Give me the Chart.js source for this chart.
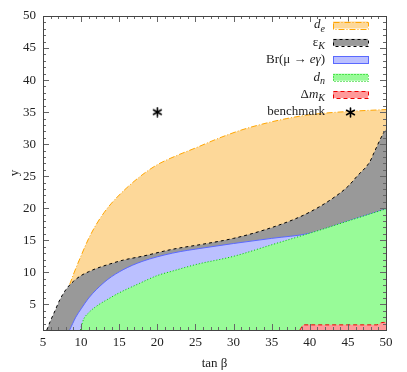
<!DOCTYPE html>
<html>
<head>
<meta charset="utf-8">
<script src="https://cdn.jsdelivr.net/npm/chart.js@4"></script>
<style>
  html, body { margin: 0; padding: 0; background: #fff; }
  #wrap { width: 407px; height: 372px; }
</style>
</head>
<body>
<div id="wrap"><canvas id="limitsChart"></canvas></div>
<script>
// boundaries of the excluded regions (tan beta, y)
const deX = [8.5, 9, 10, 11, 12, 13, 14, 16, 18, 20, 22.5, 25, 28, 31, 34, 37, 40, 45, 50];
const deY = [8.1, 9.7, 12.6, 15.3, 17.5, 19.3, 20.8, 23.2, 25.2, 26.8, 28.2, 29.4, 30.9, 32.2, 33.2, 34.0, 34.6, 35.1, 35.4];

const epsX = [5.5, 6, 6.5, 7.2, 8, 9, 10, 11, 12, 13.5, 15.5, 18, 22, 26, 30, 34, 38, 40, 42.7, 45, 46.2, 47.9, 48.4, 49.7, 50];
const epsY = [1, 2.5, 3.8, 5.7, 7.3, 8.6, 9.5, 10.1, 10.6, 11.2, 11.9, 12.5, 13.6, 14.4, 15.3, 16.6, 18.3, 19.4, 21.3, 23.4, 25.0, 27.3, 28.6, 31.8, 32.3];

const brX = [8.5, 9.3, 10, 11, 12, 13.5, 15.5, 18, 22, 26, 30, 35, 40, 45, 50];
const brY = [1, 3, 4.3, 6, 7.3, 8.9, 10.4, 11.7, 13.0, 13.8, 14.5, 15.3, 16.1, 18.0, 19.9];

const dnX = [9.9, 10.3, 11, 12, 13.5, 15, 17.7, 20, 22, 25, 30, 35, 40, 45, 50];
const dnY = [1, 2.6, 3.7, 4.7, 5.8, 6.8, 8.3, 9.5, 10.2, 11.2, 12.5, 14.3, 16.1, 18.0, 19.9];

const dmkX = [38.7, 39.2, 42, 45, 48.8, 49.4, 50];
const dmkY = [1, 1.8, 1.8, 1.8, 1.8, 2.15, 2.2];

const benchX = [20];
const benchY = [35];

const xTicks = [5, 10, 15, 20, 25, 30, 35, 40, 45, 50];
const yTicks = [5, 10, 15, 20, 25, 30, 35, 40, 45, 50];

const pts = (xs, ys) => xs.map((x, i) => ({ x: x, y: ys[i] }));
const serif = '"Liberation Serif", "DejaVu Serif", serif';

// six-armed asterisk used for the benchmark point
const starImg = document.createElement('canvas');
starImg.width = 11;
starImg.height = 11;
(function () {
  const c = starImg.getContext('2d');
  c.strokeStyle = '#000';
  c.lineWidth = 1.6;
  c.lineCap = 'round';
  c.beginPath();
  [90, 30, 150].forEach(function (deg) {
    const r = deg * Math.PI / 180, dx = Math.cos(r) * 4.5, dy = Math.sin(r) * 4.5;
    c.moveTo(5.5 - dx, 5.5 - dy);
    c.lineTo(5.5 + dx, 5.5 + dy);
  });
  c.stroke();
  c.fillStyle = '#000';
  c.beginPath();
  c.arc(5.5, 5.5, 1.8, 0, Math.PI * 2);
  c.fill();
})();

function region(label, xs, ys, fillCol, lineCol, dash, order) {
  return {
    label: label,
    data: pts(xs, ys),
    backgroundColor: fillCol,
    borderColor: lineCol,
    borderWidth: 1,
    borderDash: dash,
    fill: 'start',
    pointRadius: 0,
    cubicInterpolationMode: 'monotone',
    order: order
  };
}

const datasets = [
  region('d_e', deX, deY, 'rgb(253,216,153)', 'rgb(255,165,0)', [6, 2, 1, 2], 6),
  region('eps_K', epsX, epsY, 'rgb(153,153,153)', '#000', [3, 3], 5),
  region('Br', brX, brY, 'rgb(187,192,255)', 'rgb(90,105,255)', [], 4),
  region('d_n', dnX, dnY, 'rgb(152,251,152)', 'rgb(0,200,0)', [1, 2], 3),
  region('dm_K', dmkX, dmkY, 'rgb(255,153,153)', 'rgb(235,0,0)', [4, 3], 2),
  {
    label: 'benchmark',
    data: pts(benchX, benchY),
    showLine: false,
    pointStyle: starImg,
    pointRadius: 5,
    order: 1
  }
];

// legend entries: [text, style] with '' upright, 'i' italic, 's' italic subscript
const legendRows = [
  [[['d', 'i'], ['e', 's']], 0],
  [[['ε', ''], ['K', 's']], 1],
  [[['Br(μ → ', ''], ['eγ', 'i'], [')', '']], 2],
  [[['d', 'i'], ['n', 's']], 3],
  [[['Δ', ''], ['m', 'i'], ['K', 's']], 4],
  [[['benchmark', '']], 5]
];

function partFont(style) {
  if (style === 's') return 'italic 10px ' + serif;
  if (style === 'i') return 'italic 13px ' + serif;
  return '13px ' + serif;
}

const frameAndTicks = {
  id: 'frameAndTicks',
  afterDatasetsDraw(chart) {
    const { ctx, chartArea: a, scales: { x, y } } = chart;
    ctx.save();
    ctx.strokeStyle = '#666';
    ctx.lineWidth = 1;
    ctx.beginPath();
    for (let v = 5; v <= 50; v++) {
      const px = Math.round(x.getPixelForValue(v)) + 0.5;
      const len = v % 5 ? 3 : 6;
      ctx.moveTo(px, a.bottom); ctx.lineTo(px, a.bottom - len);
      ctx.moveTo(px, a.top); ctx.lineTo(px, a.top + len);
    }
    for (let v = 1; v <= 50; v++) {
      const py = Math.round(y.getPixelForValue(v)) + 0.5;
      const len = v % 5 ? 3 : 6;
      ctx.moveTo(a.left, py); ctx.lineTo(a.left + len, py);
      ctx.moveTo(a.right, py); ctx.lineTo(a.right - len, py);
    }
    ctx.stroke();
    ctx.strokeStyle = '#444';
    ctx.strokeRect(Math.round(a.left) + 0.5, Math.round(a.top) + 0.5,
      Math.round(a.right - a.left), Math.round(a.bottom - a.top));
    ctx.restore();
  }
};

const keyBox = {
  id: 'keyBox',
  afterDraw(chart) {
    const { ctx, chartArea: a } = chart;
    const textRight = a.right - 61;
    const boxL = a.right - 53, boxW = 35, boxH = 7;
    ctx.save();
    legendRows.forEach(function (row) {
      const parts = row[0], ds = chart.data.datasets[row[1]];
      const cy = a.top + 9 + row[1] * 17.4;
      let w = 0;
      parts.forEach(function (p) { ctx.font = partFont(p[1]); w += ctx.measureText(p[0]).width; });
      let cx = textRight - w;
      ctx.fillStyle = '#222';
      ctx.textBaseline = 'middle';
      parts.forEach(function (p) {
        ctx.font = partFont(p[1]);
        ctx.fillText(p[0], cx, p[1] === 's' ? cy + 4 : cy);
        cx += ctx.measureText(p[0]).width;
      });
      if (ds.showLine === false) {
        ctx.drawImage(starImg, Math.round(boxL + boxW / 2 - 5.5), Math.round(cy - 5.5));
      } else {
        ctx.fillStyle = ds.backgroundColor;
        ctx.fillRect(boxL, cy - boxH / 2, boxW, boxH);
        ctx.strokeStyle = ds.borderColor;
        ctx.lineWidth = 1;
        ctx.setLineDash(ds.borderDash);
        ctx.strokeRect(boxL + 0.5, Math.round(cy - boxH / 2) + 0.5, boxW, boxH);
        ctx.setLineDash([]);
      }
    });
    ctx.restore();
  }
};

new Chart(document.getElementById('limitsChart').getContext('2d'), {
  type: 'line',
  data: { datasets: datasets },
  options: {
    responsive: true,
    maintainAspectRatio: false,
    animation: false,
    layout: { padding: { left: 0, top: 16, right: 21, bottom: 0 } },
    scales: {
      x: {
        type: 'linear',
        min: 5,
        max: 50,
        afterBuildTicks: function (scale) { scale.ticks = xTicks.map(v => ({ value: v })); },
        afterFit: function (scale) { scale.height = 42; },
        grid: { display: false, drawTicks: false },
        border: { display: false },
        ticks: { font: { family: serif, size: 13 }, color: '#222', padding: 5, maxRotation: 0 },
        title: { display: true, text: 'tan β', font: { family: serif, size: 13 }, color: '#222', padding: { top: 0, bottom: 1 } }
      },
      y: {
        type: 'linear',
        min: 1,
        max: 50,
        afterBuildTicks: function (scale) { scale.ticks = yTicks.map(v => ({ value: v })); },
        afterFit: function (scale) { scale.width = 43; },
        grid: { display: false, drawTicks: false },
        border: { display: false },
        ticks: { font: { family: serif, size: 13 }, color: '#222', padding: 7 },
        title: { display: true, text: 'y', font: { family: serif, size: 13 }, color: '#222', padding: { top: 7, bottom: 0 } }
      }
    },
    plugins: {
      legend: { display: false },
      tooltip: { enabled: false }
    }
  },
  plugins: [frameAndTicks, keyBox]
});
</script>
</body>
</html>
